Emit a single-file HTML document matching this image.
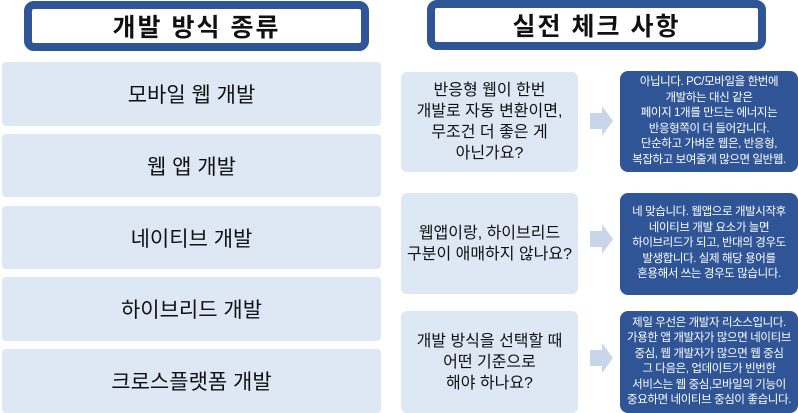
<!DOCTYPE html>
<html><head><meta charset="utf-8"><style>
body{margin:0;width:798px;height:413px;background:#fff;position:relative;overflow:hidden;font-family:"Liberation Sans","Noto Sans CJK KR",sans-serif}
.a{position:absolute;box-sizing:border-box;display:flex;align-items:center;justify-content:center;text-align:center}
.h{border:8px solid #2f5597;border-radius:10px;background:#fff;font-size:25px;font-weight:bold;color:#111;letter-spacing:2px}
.l{background:#dde8f4;border-radius:4px;font-size:21px;color:#111;left:2px;width:379px}
.m{background:#dde8f4;border-radius:6px;font-size:16px;line-height:21px;color:#111;left:401px;width:177px}
.r{background:#2f5597;border-radius:8px;font-size:11.5px;line-height:15.5px;color:#fff;left:620px;width:178px;white-space:nowrap;letter-spacing:-0.4px}
</style></head><body>
<div class="a h" style="left:24px;top:1px;width:345px;height:50px">개발 방식 종류</div>
<div class="a h" style="left:427px;top:0;width:339px;height:50px">실전 체크 사항</div>
<div class="a l" style="top:62px;height:64px">모바일 웹 개발</div>
<div class="a l" style="top:134px;height:63px">웹 앱 개발</div>
<div class="a l" style="top:206px;height:63px">네이티브 개발</div>
<div class="a l" style="top:277px;height:64px">하이브리드 개발</div>
<div class="a l" style="top:349px;height:64px">크로스플랫폼 개발</div>
<div class="a m" style="top:72px;height:100px">반응형 웹이 한번<br>개발로 자동 변환이면,<br>무조건 더 좋은 게<br>아닌가요?</div>
<div class="a m" style="top:193px;height:101px">웹앱이랑, 하이브리드<br>구분이 애매하지 않나요?</div>
<div class="a m" style="top:311px;height:102px">개발 방식을 선택할 때<br>어떤 기준으로<br>해야 하나요?</div>
<div class="a r" style="top:71px;height:101px">아닙니다. PC/모바일을 한번에<br>개발하는 대신 같은<br>페이지 1개를 만드는 에너지는<br>반응형쪽이 더 들어갑니다.<br>단순하고 가벼운 웹은, 반응형,<br>복잡하고 보여줄게 많으면 일반웹.</div>
<div class="a r" style="top:193px;height:102px">네 맞습니다. 웹앱으로 개발시작후<br>네이티브 개발 요소가 늘면<br>하이브리드가 되고, 반대의 경우도<br>발생합니다. 실제 해당 용어를<br>혼용해서 쓰는 경우도 많습니다.</div>
<div class="a r" style="top:311px;height:102px">제일 우선은 개발자 리소스입니다.<br>가용한 앱 개발자가 많으면 네이티브<br>중심, 웹 개발자가 많으면 웹 중심<br>그 다음은, 업데이트가 빈번한<br>서비스는 웹 중심,모바일의 기능이<br>중요하면 네이티브 중심이 좋습니다.</div>
<svg style="position:absolute;left:0;top:0" width="798" height="413">
<g fill="#c9d5e8">
<polygon points="590,113 602,113 602,106 613,121 602,136 602,129 590,129"/>
<polygon points="590,231 602,231 602,224 613,239 602,254 602,247 590,247"/>
<polygon points="590,350 602,350 602,343 613,358 602,373 602,366 590,366"/>
</g></svg>
</body></html>
